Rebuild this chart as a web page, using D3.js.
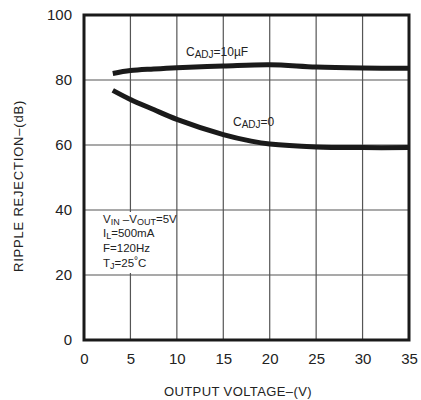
<!DOCTYPE html>
<html>
<head>
<meta charset="utf-8">
<script src="https://cdn.jsdelivr.net/npm/d3@7"></script>
<style>
  body { margin: 0; background: #fff; }
  text { font-family: "Liberation Sans", Arial, sans-serif; fill: #222; }
</style>
</head>
<body>
<div id="chartDiv"></div>
<script>
// data
let xTicks = [0, 5, 10, 15, 20, 25, 30, 35];
let yTicks = [0, 20, 40, 60, 80, 100];

let voltsHi = [3.1, 5, 7.5, 10, 15, 20, 25, 30, 35];
let rejHi   = [82.0, 82.9, 83.4, 83.8, 84.3, 84.7, 84.0, 83.7, 83.6];

let voltsLo = [3.1, 5, 7.5, 10, 15, 18, 20, 25, 30, 35];
let rejLo   = [76.8, 74.0, 70.9, 67.9, 63.2, 61.2, 60.3, 59.4, 59.2, 59.2];

let width = 421, height = 400;
let plotLeft = 84, plotRight = 409, plotTop = 15, plotBottom = 340;

let svg = d3.select("#chartDiv").append("svg")
    .attr("width", width)
    .attr("height", height);

let xScale = d3.scaleLinear().domain([0, 35]).range([plotLeft, plotRight]);
let yScale = d3.scaleLinear().domain([0, 100]).range([plotBottom, plotTop]);

// grid
let grid = svg.append("g");
grid.selectAll(".vgrid")
    .data(xTicks.slice(1, -1))
    .enter().append("line")
    .attr("x1", d => xScale(d)).attr("x2", d => xScale(d))
    .attr("y1", plotTop).attr("y2", plotBottom)
    .attr("stroke", "#555").attr("stroke-width", 1.2);
grid.selectAll(".hgrid")
    .data(yTicks.slice(1, -1))
    .enter().append("line")
    .attr("x1", plotLeft).attr("x2", plotRight)
    .attr("y1", d => yScale(d)).attr("y2", d => yScale(d))
    .attr("stroke", "#555").attr("stroke-width", 1.2);

// axes (labels only, the frame is drawn below)
let xAxis = d3.axisBottom(xScale).tickValues(xTicks).tickSize(0).tickPadding(13);
let yAxis = d3.axisLeft(yScale).tickValues(yTicks).tickSize(0).tickPadding(12);

let gx = svg.append("g").attr("transform", "translate(0," + plotBottom + ")").call(xAxis);
let gy = svg.append("g").attr("transform", "translate(" + plotLeft + ",0)").call(yAxis);
[gx, gy].forEach(g => {
    g.select(".domain").remove();
    g.selectAll("text").style("font-size", "15px").attr("fill", "#222")
        .style("font-family", "'Liberation Sans', Arial, sans-serif");
});

// conditions box (white behind text)
svg.append("rect")
    .attr("x", 100).attr("y", 212)
    .attr("width", 72).attr("height", 61)
    .attr("fill", "#fff");

let cond = svg.append("g").style("font-size", "11.5px");
let t1 = cond.append("text").attr("x", 103).attr("y", 223);
t1.append("tspan").text("V");
t1.append("tspan").text("IN").attr("dy", 2).style("font-size", "9px");
t1.append("tspan").text(" –V").attr("dy", -2);
t1.append("tspan").text("OUT").attr("dy", 2).style("font-size", "9px");
t1.append("tspan").text("=5V").attr("dy", -2);

let t2 = cond.append("text").attr("x", 103).attr("y", 237);
t2.append("tspan").text("I");
t2.append("tspan").text("L").attr("dy", 2).style("font-size", "9px");
t2.append("tspan").text("=500mA").attr("dy", -2);

cond.append("text").attr("x", 103).attr("y", 252).text("F=120Hz");

let t4 = cond.append("text").attr("x", 103).attr("y", 267);
t4.append("tspan").text("T");
t4.append("tspan").text("J").attr("dy", 2).style("font-size", "9px");
t4.append("tspan").text("=25").attr("dy", -2);
t4.append("tspan").text("°").attr("dy", -3).style("font-size", "10px");
t4.append("tspan").text("C").attr("dy", 3);

// curves
let valueline = d3.line()
    .x(d => xScale(d[0]))
    .y(d => yScale(d[1]))
    .curve(d3.curveCatmullRom);

svg.append("path")
    .datum(d3.zip(voltsHi, rejHi))
    .attr("d", valueline)
    .attr("fill", "none").attr("stroke", "#1a1a1a").attr("stroke-width", 5);

svg.append("path")
    .datum(d3.zip(voltsLo, rejLo))
    .attr("d", valueline)
    .attr("fill", "none").attr("stroke", "#1a1a1a").attr("stroke-width", 5);

// frame
svg.append("rect")
    .attr("x", plotLeft).attr("y", plotTop)
    .attr("width", plotRight - plotLeft).attr("height", plotBottom - plotTop)
    .attr("fill", "none").attr("stroke", "#1a1a1a").attr("stroke-width", 3);

// curve labels
let l1 = svg.append("text").attr("x", 186).attr("y", 56).style("font-size", "12px");
l1.append("tspan").text("C");
l1.append("tspan").text("ADJ").attr("dy", 2).style("font-size", "10px");
l1.append("tspan").text("=10µF").attr("dy", -2);

let l2 = svg.append("text").attr("x", 233).attr("y", 126).style("font-size", "12px");
l2.append("tspan").text("C");
l2.append("tspan").text("ADJ").attr("dy", 2).style("font-size", "10px");
l2.append("tspan").text("=0").attr("dy", -2);

// axis titles
svg.append("text")
    .attr("x", 238).attr("y", 396)
    .attr("text-anchor", "middle")
    .style("font-size", "13px").style("letter-spacing", "0.4px")
    .text("OUTPUT VOLTAGE–(V)");

svg.append("text")
    .attr("transform", "translate(23,186) rotate(-90)")
    .attr("text-anchor", "middle")
    .style("font-size", "13px").style("letter-spacing", "0.8px")
    .text("RIPPLE REJECTION–(dB)");
</script>
</body>
</html>
